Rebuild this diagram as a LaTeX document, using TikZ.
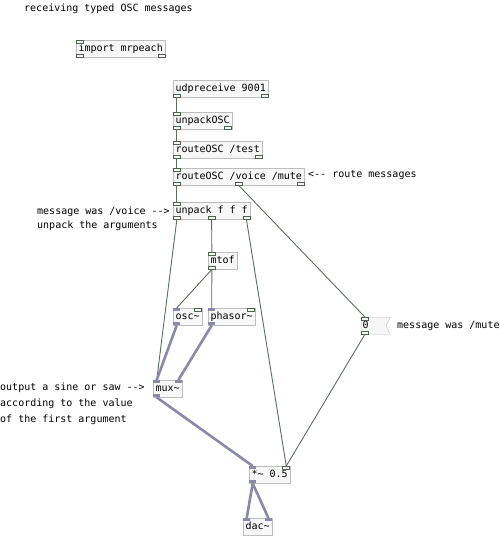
\documentclass[tikz,border=0pt]{standalone}
\usepackage{fontspec}
\newfontfamily\pdmono{DejaVu Sans Mono}
\newcommand{\pdfont}{\pdmono\fontsize{10}{12}\selectfont}
\usetikzlibrary{shapes.symbols}
\definecolor{boxline}{HTML}{BDBDBD}
\definecolor{boxfill}{HTML}{F7F7F7}
\definecolor{tabline}{HTML}{4E604E}
\definecolor{wireline}{HTML}{5E6E5E}
\definecolor{sigline}{HTML}{8A8AA6}

\begin{document}
\begin{tikzpicture}[x=1pt,y=-1pt]
% Define styles
\tikzstyle{obj} = [rectangle, draw=boxline, fill=boxfill, anchor=north west, font=\pdfont, inner xsep=2.3pt, inner ysep=0pt, minimum height=17pt, text height=7.5pt, text depth=2.5pt]
\tikzstyle{numbox} = [signal, signal to=nowhere, signal from=east, signal pointer angle=130, draw=boxline, fill=boxfill, anchor=north west, font=\pdfont, inner xsep=1.5pt, inner ysep=0pt, minimum height=17pt, text width=22pt, align=left, text height=7.5pt, text depth=2.5pt]
\tikzstyle{note} = [anchor=base west, font=\pdfont, inner sep=0pt]
\tikzstyle{ctl} = [rectangle, draw=tabline, fill=boxfill, line width=0.7pt, minimum width=7pt, minimum height=3pt, inner sep=0pt]
\tikzstyle{sig} = [rectangle, fill=sigline, minimum width=7pt, minimum height=3pt, inner sep=0pt]
\tikzstyle{cwire} = [draw=wireline, line width=0.9pt]
\tikzstyle{swire} = [draw=sigline, line width=2.6pt]

\fill[white] (0,0) rectangle (500,538);
\useasboundingbox (0,0) rectangle (500,538);

% Comments
\node[note] (title) at (24,11) {receiving typed OSC messages};
\node[note] (croute) at (308,177) {<-- route messages};
\node[note] (cvoice) at (37,214) {message was /voice -->};
\node[note] (cunpack) at (37,228) {unpack the arguments};
\node[note] (cmute) at (397,328) {message was /mute};
\node[note] (cmux1) at (0,390) {output a sine or saw -->};
\node[note] (cmux2) at (0,406) {according to the value};
\node[note] (cmux3) at (0,422) {of the first argument};

% Draw objects
\node[obj] (imp) at (76,40) {import mrpeach};
\node[obj] (udp) at (173,80) {udpreceive 9001};
\node[obj] (uosc) at (173,112) {unpackOSC};
\node[obj] (rtest) at (173,141) {routeOSC /test};
\node[obj] (rvm) at (173,168) {routeOSC /voice /mute};
\node[obj] (unp) at (173,202) {unpack f f f};
\node[obj] (mtof) at (208,252) {mtof};
\node[obj] (osc) at (173,308) {osc\~{}};
\node[obj] (phs) at (208,308) {phasor\~{}};
\node[numbox] (nbox) at (361,317) {0};
\node[obj] (mux) at (153,380) {mux\~{}};
\node[obj] (mul) at (249,466) {*\~{} 0.5};
\node[obj] (dac) at (243,518) {dac\~{}};

% Inlets and outlets
\node[ctl, anchor=north west] (impi0) at (imp.north west) {};
\node[ctl, anchor=south west] (impo0) at (imp.south west) {};
\node[ctl, anchor=south east] (impo1) at (imp.south east) {};
\node[ctl, anchor=south west] (udpo0) at (udp.south west) {};
\node[ctl, anchor=south east] (udpo1) at (udp.south east) {};
\node[ctl, anchor=north west] (uosci0) at (uosc.north west) {};
\node[ctl, anchor=south west] (uosco0) at (uosc.south west) {};
\node[ctl, anchor=south east] (uosco1) at (uosc.south east) {};
\node[ctl, anchor=north west] (rtesti0) at (rtest.north west) {};
\node[ctl, anchor=south west] (rtesto0) at (rtest.south west) {};
\node[ctl, anchor=south east] (rtesto1) at (rtest.south east) {};
\node[ctl, anchor=north west] (rvmi0) at (rvm.north west) {};
\node[ctl, anchor=south west] (rvmo0) at (rvm.south west) {};
\node[ctl, anchor=south] (rvmo1) at (rvm.south) {};
\node[ctl, anchor=south east] (rvmo2) at (rvm.south east) {};
\node[ctl, anchor=north west] (unpi0) at (unp.north west) {};
\node[ctl, anchor=south west] (unpo0) at (unp.south west) {};
\node[ctl, anchor=south] (unpo1) at (unp.south) {};
\node[ctl, anchor=south east] (unpo2) at (unp.south east) {};
\node[ctl, anchor=north west] (mtofi0) at (mtof.north west) {};
\node[ctl, anchor=south west] (mtofo0) at (mtof.south west) {};
\node[sig, anchor=north west] (osci0) at (osc.north west) {};
\node[ctl, anchor=north east] (osci1) at (osc.north east) {};
\node[sig, anchor=south west] (osco0) at (osc.south west) {};
\node[sig, anchor=north west] (phsi0) at (phs.north west) {};
\node[ctl, anchor=north east] (phsi1) at (phs.north east) {};
\node[sig, anchor=south west] (phso0) at (phs.south west) {};
\node[ctl, anchor=north west] (nboxi0) at (nbox.north west) {};
\node[ctl, anchor=south west] (nboxo0) at (nbox.south west) {};
\node[sig, anchor=north west] (muxi0) at (mux.north west) {};
\node[sig, anchor=north east] (muxi1) at (mux.north east) {};
\node[sig, anchor=south west] (muxo0) at (mux.south west) {};
\node[sig, anchor=north west] (muli0) at (mul.north west) {};
\node[ctl, anchor=north east] (muli1) at (mul.north east) {};
\node[sig, anchor=south west] (mulo0) at (mul.south west) {};
\node[sig, anchor=north west] (daci0) at (dac.north west) {};
\node[sig, anchor=north east] (daci1) at (dac.north east) {};

% Draw connections
\draw[cwire] (udpo0.south) -- (uosci0.north);
\draw[cwire] (uosco0.south) -- (rtesti0.north);
\draw[cwire] (rtesto0.south) -- (rvmi0.north);
\draw[cwire] (rvmo0.south) -- (unpi0.north);
\draw[cwire] (rvmo1.south) -- (nboxi0.north);
\draw[cwire] (unpo0.south) -- (muxi0.north);
\draw[cwire] (unpo1.south) -- (mtofi0.north);
\draw[cwire] (unpo2.south) -- (muli1.north);
\draw[cwire] (mtofo0.south) -- (osci0.north);
\draw[cwire] (mtofo0.south) -- (phsi0.north);
\draw[cwire] (nboxo0.south) -- (muli1.north);
\draw[swire] (osco0.south) -- (muxi0.north);
\draw[swire] (phso0.south) -- (muxi1.north);
\draw[swire] (muxo0.south) -- (muli0.north);
\draw[swire] (mulo0.south) -- (daci0.north);
\draw[swire] (mulo0.south) -- (daci1.north);
\end{tikzpicture}
\end{document}
